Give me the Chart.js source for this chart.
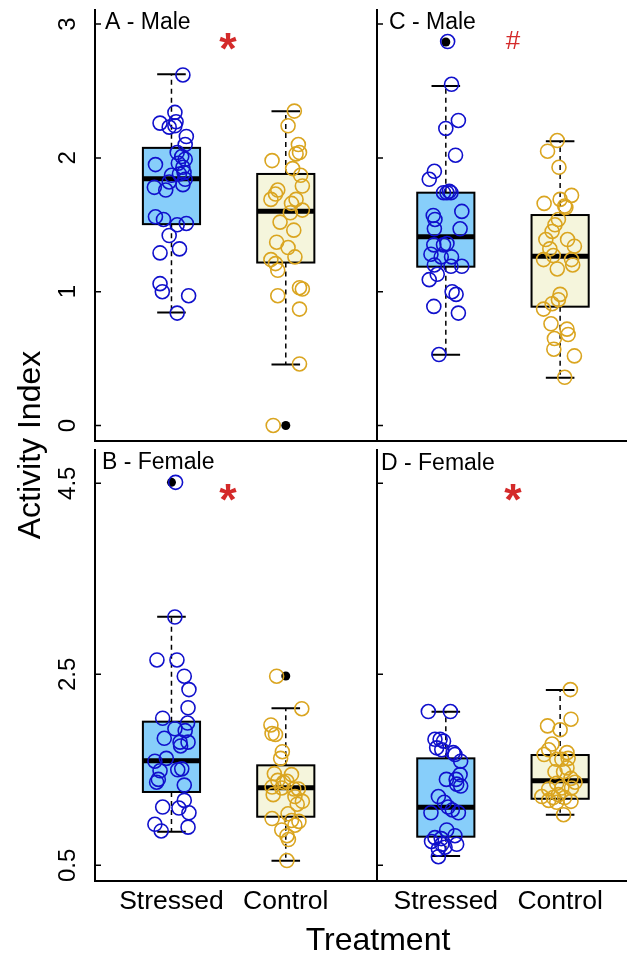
<!DOCTYPE html>
<html>
<head>
<meta charset="utf-8">
<script src="https://cdn.jsdelivr.net/npm/chart.js@4.4.1/dist/chart.umd.min.js"></script>
<style>
  body { margin: 0; background: #fff; }
  #fig { position: relative; width: 627px; height: 956px; }
  #fig canvas { position: absolute; left: 0; top: 0; }
</style>
</head>
<body>
<div id="fig">
  <canvas id="panelA" width="627" height="956"></canvas>
  <canvas id="panelC" width="627" height="956"></canvas>
  <canvas id="panelB" width="627" height="956"></canvas>
  <canvas id="panelD" width="627" height="956"></canvas>
</div>
<script>
// -------------------------------
// Data
// -------------------------------
const groups = ["Stressed", "Control"];
const maleTicks = [0, 1, 2, 3];
const femaleTicks = [0.5, 2.5, 4.5];

// A - Male
const aStressed = [2.62, 2.34, 2.26, 2.27, 2.23, 2.24, 2.16, 2.10, 2.04, 2.01, 1.99, 1.96, 1.95, 1.93, 1.89, 1.87, 1.84, 1.80, 1.82, 1.78, 1.76, 1.88, 1.56, 1.54, 1.50, 1.51, 1.42, 1.29, 1.32, 1.06, 1.00, 0.97, 0.84];
const aStressedJit = [0.10, 0.03, -0.10, 0.04, -0.02, 0.03, 0.13, 0.12, 0.05, 0.09, 0.12, 0.06, -0.14, 0.10, 0.11, 0.00, 0.12, 0.10, -0.02, -0.15, -0.05, 0.07, -0.14, -0.07, 0.05, 0.13, -0.02, -0.10, 0.07, -0.10, -0.08, 0.15, 0.05];
const aControl = [2.35, 2.24, 2.10, 2.04, 2.03, 1.98, 1.92, 1.87, 1.79, 1.76, 1.73, 1.69, 1.69, 1.66, 1.61, 1.59, 1.52, 1.46, 1.37, 1.33, 1.26, 1.24, 1.21, 1.16, 1.03, 1.02, 0.97, 0.87, 0.46, 0.00];
const aControlJit = [0.075, 0.02, 0.11, 0.12, 0.09, -0.12, 0.06, 0.13, 0.145, -0.07, -0.09, -0.13, 0.09, 0.05, 0.145, 0.04, -0.05, 0.07, -0.08, 0.02, 0.08, -0.13, -0.09, -0.07, 0.12, 0.145, -0.07, 0.12, 0.12, -0.11];
const aBoxStressed = [0.845, 1.505, 1.845, 2.075, 2.626];   // lo, q1, median, q3, hi
const aBoxControl = [0.455, 1.218, 1.602, 1.880, 2.348];
const aOutStressed = [];
const aOutControl = [0.00];

// C - Male
const cStressed = [2.87, 2.55, 2.28, 2.22, 2.02, 1.90, 1.84, 1.74, 1.74, 1.74, 1.75, 1.60, 1.57, 1.54, 1.47, 1.47, 1.36, 1.35, 1.35, 1.28, 1.26, 1.26, 1.20, 1.19, 1.19, 1.13, 1.09, 1.00, 0.98, 0.89, 0.84, 0.53];
const cStressedJit = [0.016, 0.05, 0.11, 0.0, 0.085, -0.10, -0.145, -0.02, 0.01, 0.045, 0.03, 0.14, -0.11, -0.095, -0.10, 0.125, 0.01, -0.02, -0.105, -0.13, -0.04, 0.05, -0.10, 0.045, 0.14, -0.075, -0.145, 0.055, 0.09, -0.105, 0.11, -0.06];
const cControl = [2.13, 2.05, 1.93, 1.66, 1.72, 1.69, 1.64, 1.63, 1.54, 1.50, 1.45, 1.39, 1.39, 1.34, 1.32, 1.27, 1.24, 1.24, 1.20, 1.17, 0.98, 0.94, 0.91, 0.87, 0.76, 0.72, 0.68, 0.65, 0.57, 0.52, 0.36];
const cControlJit = [-0.025, -0.11, -0.01, -0.14, 0.10, 0.0, 0.04, 0.05, -0.015, -0.045, -0.07, -0.125, 0.065, 0.125, -0.09, -0.06, -0.145, 0.10, 0.11, -0.025, 0.0, -0.015, -0.07, -0.145, -0.08, 0.06, 0.07, -0.05, -0.055, 0.125, 0.04];
const cBoxStressed = [0.529, 1.187, 1.411, 1.740, 2.537];
const cBoxControl = [0.357, 0.888, 1.264, 1.573, 2.124];
const cOutStressed = [2.866];
const cOutControl = [];

// B - Female
const bStressed = [4.51, 3.10, 2.65, 2.65, 2.48, 2.34, 2.15, 2.04, 1.99, 1.93, 1.91, 1.83, 1.79, 1.75, 1.79, 1.62, 1.59, 1.51, 1.50, 1.49, 1.40, 1.37, 1.34, 1.18, 1.11, 1.10, 1.05, 0.93, 0.90, 0.86];
const bStressedJit = [0.036, 0.03, -0.127, 0.048, 0.112, 0.153, 0.145, -0.077, 0.141, 0.03, 0.12, -0.063, 0.075, 0.08, 0.145, -0.045, -0.145, 0.09, 0.055, -0.10, -0.115, -0.13, 0.112, 0.112, -0.077, 0.065, 0.153, -0.145, 0.145, -0.09];
const bControl = [2.48, 2.14, 1.97, 1.88, 1.87, 1.69, 1.62, 1.46, 1.45, 1.39, 1.37, 1.38, 1.32, 1.31, 1.30, 1.30, 1.24, 1.22, 1.17, 1.14, 1.04, 0.99, 0.97, 0.96, 0.92, 0.87, 0.81, 0.77, 0.55];
const bControlJit = [-0.08, 0.14, -0.13, -0.12, -0.09, -0.03, -0.045, -0.10, 0.05, -0.07, -0.02, 0.01, -0.12, -0.035, 0.07, 0.11, -0.11, 0.08, 0.145, 0.10, 0.02, -0.12, 0.05, 0.115, 0.08, -0.035, 0.01, 0.023, 0.01];
const bBoxStressed = [0.852, 1.268, 1.595, 2.004, 3.103];
const bBoxControl = [0.548, 1.009, 1.313, 1.547, 2.144];
const bOutStressed = [4.51];
const bOutControl = [2.482];

// D - Female
const dStressed = [2.11, 2.11, 1.82, 1.82, 1.80, 1.73, 1.71, 1.68, 1.66, 1.59, 1.45, 1.40, 1.40, 1.33, 1.35, 1.22, 1.16, 1.05, 1.08, 1.05, 1.11, 0.87, 0.79, 0.81, 0.78, 0.72, 0.75, 0.72, 0.69, 0.67, 0.59];
const dStressedJit = [-0.153, 0.04, -0.095, -0.05, -0.02, -0.08, -0.035, 0.065, 0.08, 0.13, 0.125, 0.005, 0.09, 0.13, 0.095, -0.065, -0.013, -0.13, 0.057, 0.11, 0.02, 0.008, -0.095, 0.08, -0.04, 0.095, -0.125, -0.035, -0.007, -0.065, -0.065];
const dControl = [2.34, 2.03, 1.96, 1.92, 1.77, 1.71, 1.66, 1.68, 1.62, 1.61, 1.52, 1.61, 1.48, 1.48, 1.41, 1.36, 1.31, 1.37, 1.31, 1.30, 1.22, 1.21, 1.18, 1.24, 1.21, 1.17, 1.16, 1.03];
const dControlJit = [0.09, 0.095, -0.11, 0.0, -0.07, -0.10, -0.14, 0.06, 0.07, 0.015, 0.06, -0.03, -0.045, 0.03, 0.095, -0.03, 0.015, 0.13, 0.10, -0.10, -0.16, -0.06, -0.10, -0.015, 0.04, 0.095, -0.03, 0.03];
const dBoxStressed = [0.597, 0.800, 1.107, 1.620, 2.108];
const dBoxControl = [1.030, 1.197, 1.386, 1.655, 2.336];
const dOutStressed = [];
const dOutControl = [];

// -------------------------------
// Styles
// -------------------------------
const FONT = "'Liberation Sans', Arial, sans-serif";
const BLUE = "#1010CC";
const GOLD = "#DAA520";
const FILL_STRESSED = "#87CEFA";
const FILL_CONTROL = "#F5F5DC";
const RED = "#D42A2A";

Chart.defaults.font.family = FONT;

function toPoints(center, values, jitter) {
  return values.map((v, i) => ({ x: center + jitter[i], y: v }));
}

function drawBox(ctx, xs, ys, cx, s, fill) {
  const [lo, q1, med, q3, hi] = s;
  const xc = xs.getPixelForValue(cx);
  const l = xs.getPixelForValue(cx - 0.25);
  const r = xs.getPixelForValue(cx + 0.25);
  const cl = xs.getPixelForValue(cx - 0.125);
  const cr = xs.getPixelForValue(cx + 0.125);

  ctx.strokeStyle = "#000";
  ctx.lineWidth = 1.5;
  ctx.setLineDash([5, 4]);
  ctx.beginPath();
  ctx.moveTo(xc, ys.getPixelForValue(q3));
  ctx.lineTo(xc, ys.getPixelForValue(hi));
  ctx.moveTo(xc, ys.getPixelForValue(q1));
  ctx.lineTo(xc, ys.getPixelForValue(lo));
  ctx.stroke();
  ctx.setLineDash([]);

  ctx.lineWidth = 2;
  ctx.beginPath();
  ctx.moveTo(cl, ys.getPixelForValue(hi));
  ctx.lineTo(cr, ys.getPixelForValue(hi));
  ctx.moveTo(cl, ys.getPixelForValue(lo));
  ctx.lineTo(cr, ys.getPixelForValue(lo));
  ctx.stroke();

  const top = ys.getPixelForValue(q3);
  const bot = ys.getPixelForValue(q1);
  ctx.fillStyle = fill;
  ctx.fillRect(l, top, r - l, bot - top);
  ctx.strokeRect(l, top, r - l, bot - top);

  ctx.lineWidth = 5;
  ctx.beginPath();
  ctx.moveTo(l, ys.getPixelForValue(med));
  ctx.lineTo(r, ys.getPixelForValue(med));
  ctx.stroke();
}

function drawMark(ctx, ch, cx, cy, h, weight) {
  ctx.font = `${weight} 100px ${FONT}`;
  let m = ctx.measureText(ch);
  const size = 100 * h / (m.actualBoundingBoxAscent + m.actualBoundingBoxDescent);
  ctx.font = `${weight} ${size}px ${FONT}`;
  m = ctx.measureText(ch);
  ctx.fillStyle = RED;
  ctx.textAlign = "center";
  ctx.textBaseline = "alphabetic";
  ctx.fillText(ch, cx, cy + (m.actualBoundingBoxAscent - m.actualBoundingBoxDescent) / 2);
}

// -------------------------------
// One panel
// -------------------------------
function panelChart(id, p) {
  const boxPlugin = {
    id: "boxes_" + id,
    beforeDatasetsDraw(chart) {
      const { ctx, chartArea: a } = chart;
      const xs = chart.scales.x, ys = chart.scales.y;
      ctx.save();

      // axis lines (left and bottom)
      ctx.strokeStyle = "#000";
      ctx.lineWidth = 2;
      ctx.beginPath();
      ctx.moveTo(a.left, a.top);
      ctx.lineTo(a.left, a.bottom);
      ctx.lineTo(a.right, a.bottom);
      ctx.stroke();

      // inward ticks
      ctx.lineWidth = 1.5;
      ctx.beginPath();
      p.ticks.forEach(t => {
        const y = ys.getPixelForValue(t);
        ctx.moveTo(a.left, y);
        ctx.lineTo(a.left + 6, y);
      });
      ctx.stroke();

      // tick labels on the left column only
      if (p.tickLabels) {
        ctx.fillStyle = "#000";
        ctx.font = `24px ${FONT}`;
        ctx.textAlign = "center";
        ctx.textBaseline = "alphabetic";
        p.ticks.forEach(t => {
          const y = ys.getPixelForValue(t);
          ctx.save();
          ctx.translate(75, y);
          ctx.rotate(-Math.PI / 2);
          ctx.fillText(String(t), 0, 0);
          ctx.restore();
        });
      }

      drawBox(ctx, xs, ys, 1, p.boxStressed, FILL_STRESSED);
      drawBox(ctx, xs, ys, 2, p.boxControl, FILL_CONTROL);

      // outliers
      ctx.fillStyle = "#000";
      [[1, p.outStressed], [2, p.outControl]].forEach(([cx, arr]) => {
        arr.forEach(v => {
          ctx.beginPath();
          ctx.arc(xs.getPixelForValue(cx), ys.getPixelForValue(v), 4.5, 0, Math.PI * 2);
          ctx.fill();
        });
      });

      // category labels on the bottom row
      if (p.catLabels) {
        ctx.font = `26.5px ${FONT}`;
        ctx.textAlign = "center";
        ctx.textBaseline = "alphabetic";
        groups.forEach((g, i) => {
          ctx.fillText(g, xs.getPixelForValue(i + 1), 909);
        });
      }
      ctx.restore();
    },
    afterDraw(chart) {
      const { ctx } = chart;
      ctx.save();
      ctx.fillStyle = "#000";
      ctx.font = `23px ${FONT}`;
      ctx.textAlign = "left";
      ctx.textBaseline = "alphabetic";
      ctx.fillText(p.title, p.titlePos[0], p.titlePos[1]);
      drawMark(ctx, p.mark, p.markPos[0], p.markPos[1], p.mark === "#" ? 18 : 17, p.mark === "#" ? "normal" : "bold");

      if (p.figTitles) {
        ctx.fillStyle = "#000";
        ctx.font = `32px ${FONT}`;
        ctx.textAlign = "center";
        ctx.fillText("Treatment", 378, 950);
        ctx.save();
        ctx.translate(40, 445);
        ctx.rotate(-Math.PI / 2);
        ctx.fillText("Activity Index", 0, 0);
        ctx.restore();
      }
      ctx.restore();
    }
  };

  return new Chart(document.getElementById(id), {
    type: "scatter",
    data: {
      datasets: [
        {
          label: groups[0],
          data: toPoints(1, p.stressed, p.stressedJit),
          borderColor: BLUE,
          backgroundColor: "rgba(0,0,0,0)",
          pointRadius: 7,
          borderWidth: 1.6
        },
        {
          label: groups[1],
          data: toPoints(2, p.control, p.controlJit),
          borderColor: GOLD,
          backgroundColor: "rgba(0,0,0,0)",
          pointRadius: 7,
          borderWidth: 1.6
        }
      ]
    },
    options: {
      responsive: false,
      animation: false,
      layout: { padding: p.pad, autoPadding: false },
      plugins: { legend: { display: false }, tooltip: { enabled: false } },
      scales: {
        x: { type: "linear", display: false, min: p.xMin, max: p.xMax },
        y: { type: "linear", display: false, min: p.yMin, max: p.yMax }
      }
    },
    plugins: [boxPlugin]
  });
}

// -------------------------------
// Build the four panels
// -------------------------------
const leftX = { xMin: 0.331, xMax: 2.798 };
const rightX = { xMin: 0.398, xMax: 2.585 };
const maleY = { yMin: -0.116, yMax: 3.113, ticks: maleTicks };
const femaleY = { yMin: 0.336, yMax: 4.859, ticks: femaleTicks };

panelChart("panelA", {
  ...leftX, ...maleY, pad: { left: 95, right: 250, top: 9, bottom: 515 },
  stressed: aStressed, stressedJit: aStressedJit, control: aControl, controlJit: aControlJit,
  boxStressed: aBoxStressed, boxControl: aBoxControl, outStressed: aOutStressed, outControl: aOutControl,
  tickLabels: true, title: "A - Male", titlePos: [105, 29], mark: "*", markPos: [228, 41]
});

panelChart("panelC", {
  ...rightX, ...maleY, pad: { left: 377, right: 0, top: 9, bottom: 515 },
  stressed: cStressed, stressedJit: cStressedJit, control: cControl, controlJit: cControlJit,
  boxStressed: cBoxStressed, boxControl: cBoxControl, outStressed: cOutStressed, outControl: cOutControl,
  title: "C - Male", titlePos: [389, 29], mark: "#", markPos: [513, 40]
});

panelChart("panelB", {
  ...leftX, ...femaleY, pad: { left: 95, right: 250, top: 449, bottom: 75 },
  stressed: bStressed, stressedJit: bStressedJit, control: bControl, controlJit: bControlJit,
  boxStressed: bBoxStressed, boxControl: bBoxControl, outStressed: bOutStressed, outControl: bOutControl,
  tickLabels: true, catLabels: true, figTitles: true,
  title: "B - Female", titlePos: [102, 469], mark: "*", markPos: [228, 492]
});

panelChart("panelD", {
  ...rightX, ...femaleY, pad: { left: 377, right: 0, top: 449, bottom: 75 },
  stressed: dStressed, stressedJit: dStressedJit, control: dControl, controlJit: dControlJit,
  boxStressed: dBoxStressed, boxControl: dBoxControl, outStressed: dOutStressed, outControl: dOutControl,
  catLabels: true,
  title: "D - Female", titlePos: [381, 470], mark: "*", markPos: [513, 492]
});
</script>
</body>
</html>
